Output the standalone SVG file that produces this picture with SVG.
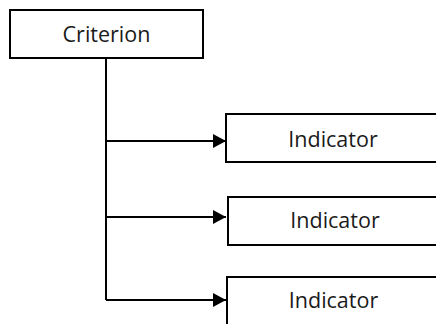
<svg xmlns="http://www.w3.org/2000/svg" width="436" height="324" viewBox="0 0 436 324">
<defs>
<style>
.box{fill:#fff;stroke:#000;stroke-width:2}
.lbl{font-family:"Open Sans","Noto Sans",sans-serif;font-size:21.5px;fill:#1a1a1a;text-anchor:middle}
.conn{fill:none;stroke:#000;stroke-width:2}
</style>
<marker id="arr" viewBox="0 0 13 14" refX="13" refY="7" markerWidth="13" markerHeight="14" markerUnits="userSpaceOnUse" orient="auto">
<path d="M0,0 L13,7 L0,14 Z" fill="#000"/>
</marker>
</defs>
<rect width="436" height="324" fill="#fff"/>
<g id="connectors">
<path class="conn" d="M106,58 V300"/>
<path class="conn" d="M106,141 H226" marker-end="url(#arr)"/>
<path class="conn" d="M106,217 H226" marker-end="url(#arr)"/>
<path class="conn" d="M106,300 H226" marker-end="url(#arr)"/>
</g>
<g id="criterion">
<rect class="box" x="10" y="10" width="193" height="48"/>
<text class="lbl" x="106.5" y="42">Criterion</text>
</g>
<g id="indicator1">
<rect class="box" x="226" y="114" width="220" height="48"/>
<text class="lbl" x="333" y="147">Indicator</text>
</g>
<g id="indicator2">
<rect class="box" x="228" y="197" width="220" height="48"/>
<text class="lbl" x="335" y="228">Indicator</text>
</g>
<g id="indicator3">
<rect class="box" x="227" y="277" width="220" height="48"/>
<text class="lbl" x="333.5" y="308">Indicator</text>
</g>
</svg>
